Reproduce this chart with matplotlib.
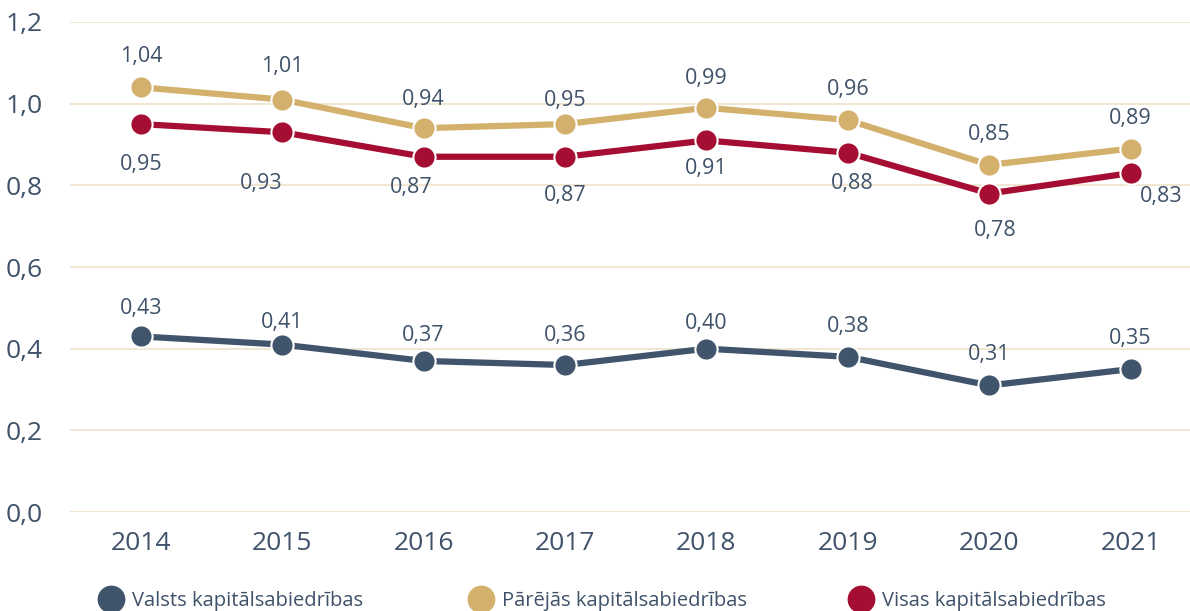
import numpy as np
import matplotlib.pyplot as plt
from matplotlib.lines import Line2D

# Data
years = ['2014', '2015', '2016', '2017', '2018', '2019', '2020', '2021']
valsts = [0.43, 0.41, 0.37, 0.36, 0.40, 0.38, 0.31, 0.35]
parejas = [1.04, 1.01, 0.94, 0.95, 0.99, 0.96, 0.85, 0.89]
visas = [0.95, 0.93, 0.87, 0.87, 0.91, 0.88, 0.78, 0.83]
names = ['Valsts kapitālsabiedrības', 'Pārējās kapitālsabiedrības', 'Visas kapitālsabiedrības']

c_dark = '#40546b'
c_gold = '#d3b16d'
c_red = '#a50d32'
c_text = '#3f5269'
c_grid = '#efe2c9'

plt.rcParams['font.family'] = ['Open Sans', 'DejaVu Sans']

fig = plt.figure(figsize=(11.9, 6.11), dpi=100)
ax = fig.add_axes([0.059, 0.162, 0.941, 0.802])

x = np.arange(len(years))
for vals, col in [(valsts, c_dark), (visas, c_red), (parejas, c_gold)]:
    ax.plot(x, vals, color=col, lw=4.5, marker='o', ms=16,
            mec='white', mew=1.5, zorder=3, solid_capstyle='round')

def fmt(v):
    return f'{v:.2f}'.replace('.', ',')

lab_kw = dict(fontsize=15.5, color=c_text, ha='center', va='center',
              textcoords='offset points')
gold_dy = [22.5, 24, 20.5, 17, 21, 22, 22, 22]
dark_dy = [20, 16, 18, 21, 18, 22, 22, 22]
red_dx = [0, -15, -9, 0, 0, 3, 4, 22]
red_dy = [-29, -37, -22, -28, -20.5, -22, -26.5, -17]
for i in x:
    ax.annotate(fmt(parejas[i]), (i, parejas[i]), xytext=(0, gold_dy[i]), **lab_kw)
    ax.annotate(fmt(valsts[i]), (i, valsts[i]), xytext=(0, dark_dy[i]), **lab_kw)
    ax.annotate(fmt(visas[i]), (i, visas[i]), xytext=(red_dx[i], red_dy[i]), **lab_kw)

ax.set_xlim(-0.5, 7.42)
ax.set_ylim(0, 1.2)
yt = np.arange(0, 1.21, 0.2)
ax.set_yticks(yt)
ax.set_yticklabels([f'{v:.1f}'.replace('.', ',') for v in yt])
ax.set_xticks(x)
ax.set_xticklabels(years)
ax.tick_params(length=0, labelsize=19, labelcolor=c_text)
ax.tick_params(axis='x', pad=14)
for lbl in ax.get_yticklabels():
    lbl.set_horizontalalignment('left')
    lbl.set_x(-0.059 / 0.941 + 0.005)
ax.yaxis.set_tick_params(pad=0)
ax.grid(axis='y', color=c_grid, lw=1.2)
ax.set_axisbelow(True)
for s in ax.spines.values():
    s.set_visible(False)

# legend: one entry per position
leg_x = [0.083, 0.394, 0.713]
for name, col, lx in zip(names, (c_dark, c_gold, c_red), leg_x):
    h = Line2D([], [], ls='none', marker='o', ms=19, color=col)
    fig.legend([h], [name], loc='center left', bbox_to_anchor=(lx, 0.016),
               frameon=False, fontsize=14.5, labelcolor=c_text,
               handletextpad=0.45, handlelength=1.2, borderpad=0, borderaxespad=0)

fig.savefig('out.png', dpi=100)
